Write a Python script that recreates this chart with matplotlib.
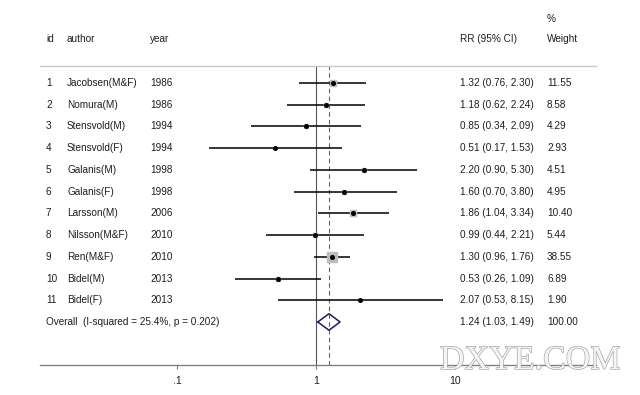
import numpy as np
import matplotlib
matplotlib.use('Agg')
import matplotlib.pyplot as plt
import matplotlib.patheffects as pe
from matplotlib.transforms import blended_transform_factory

# 研究数据
ids = ['1', '2', '3', '4', '5', '6', '7', '8', '9', '10', '11']
authors = ['Jacobsen(M&F)', 'Nomura(M)', 'Stensvold(M)', 'Stensvold(F)', 'Galanis(M)',
           'Galanis(F)', 'Larsson(M)', 'Nilsson(M&F)', 'Ren(M&F)', 'Bidel(M)', 'Bidel(F)']
years = ['1986', '1986', '1994', '1994', '1998', '1998', '2006', '2010', '2010', '2013', '2013']
rr = [1.32, 1.18, 0.85, 0.51, 2.20, 1.60, 1.86, 0.99, 1.30, 0.53, 2.07]
lo = [0.76, 0.62, 0.34, 0.17, 0.90, 0.70, 1.04, 0.44, 0.96, 0.26, 0.53]
hi = [2.30, 2.24, 2.09, 1.53, 5.30, 3.80, 3.34, 2.21, 1.76, 1.09, 8.15]
weight = [11.55, 8.58, 4.29, 2.93, 4.51, 4.95, 10.40, 5.44, 38.55, 6.89, 1.90]

overall_label = 'Overall  (I-squared = 25.4%, p = 0.202)'
overall_rr, overall_lo, overall_hi, overall_w = 1.24, 1.03, 1.49, 100.00

tick_vals = [0.1, 1, 10]
tick_labels = ['.1', '1', '10']

plt.rcParams['font.family'] = ['Liberation Sans', 'DejaVu Sans']
fs = 7.2
tc = '#1e1e1e'

W, H = 640, 395
fig = plt.figure(figsize=(W / 100, H / 100), dpi=100)
# 绘图区: 横向 40-596 px, 纵向 66-365 px
ax = fig.add_axes([40 / W, (H - 365) / H, 556 / W, 299 / H])
ax.set_xscale('log')
ax.set_xlim(10 ** (-276 / 139), 10 ** (280 / 139))
ax.set_ylim(13.98, 0.218)

n = len(rr)
rows = np.arange(1, n + 1)

# 参考线
ax.axvline(1, color='#555555', lw=0.8, zorder=1)
ax.axvline(overall_rr, color='#a04848', lw=0.8, ls=(0, (4, 3)), zorder=1)

# 置信区间和权重方块
for i in range(n):
    y = rows[i]
    ax.plot([lo[i], hi[i]], [y, y], color='black', lw=1.1, zorder=2, solid_capstyle='butt')
    ax.plot(rr[i], y, marker='s', ms=7.2 * np.sqrt(weight[i] / 38.55), color='#bdbdbd',
            mec='#bdbdbd', zorder=3, ls='none')
    ax.plot(rr[i], y, marker='o', ms=2.6, color='black', zorder=4, ls='none')

# 合并效应菱形
yo = n + 1
dx = [overall_lo, overall_rr, overall_hi, overall_rr, overall_lo]
dy = [yo, yo - 0.38, yo, yo + 0.38, yo]
ax.plot(dx, dy, color='#1c1c6a', lw=1.1, zorder=4)

# 坐标轴样式
for s in ['left', 'right']:
    ax.spines[s].set_visible(False)
ax.spines['top'].set_color('#c8c8c8')
ax.spines['top'].set_linewidth(1.0)
ax.spines['bottom'].set_color('#808080')
ax.spines['bottom'].set_linewidth(1.0)
ax.set_yticks([])
ax.set_xticks(tick_vals)
ax.set_xticklabels(tick_labels, fontsize=7.6, color=tc)
ax.xaxis.set_minor_locator(matplotlib.ticker.NullLocator())
ax.tick_params(axis='x', direction='out', length=3, width=0.8, color='#808080', pad=5)

# 文字列
tr = blended_transform_factory(fig.transFigure, ax.transData)
col_id, col_author, col_year, col_rr, col_w = 46 / W, 67 / W, 150 / W, 460 / W, 547 / W

ax.text(col_id, -1.02, 'id', transform=tr, fontsize=fs, color=tc, va='center', clip_on=False)
ax.text(col_author, -1.02, 'author', transform=tr, fontsize=fs, color=tc, va='center', clip_on=False)
ax.text(col_year, -1.02, 'year', transform=tr, fontsize=fs, color=tc, va='center', clip_on=False)
ax.text(col_rr, -1.02, 'RR (95% CI)', transform=tr, fontsize=fs, color=tc, va='center', clip_on=False)
ax.text(col_w, -1.95, '%', transform=tr, fontsize=fs, color=tc, va='center', clip_on=False)
ax.text(col_w, -1.02, 'Weight', transform=tr, fontsize=fs, color=tc, va='center', clip_on=False)

for i in range(n):
    y = rows[i]
    ax.text(col_id, y, ids[i], transform=tr, fontsize=fs, color=tc, va='center')
    ax.text(col_author, y, authors[i], transform=tr, fontsize=fs, color=tc, va='center')
    ax.text(col_year, y, years[i], transform=tr, fontsize=fs, color=tc, va='center')
    ax.text(col_rr, y, f'{rr[i]:.2f} ({lo[i]:.2f}, {hi[i]:.2f})', transform=tr,
            fontsize=fs, color=tc, va='center')
    ax.text(col_w, y, f'{weight[i]:.2f}', transform=tr, fontsize=fs, color=tc, va='center')

ax.text(col_id, yo, overall_label, transform=tr, fontsize=fs, color=tc, va='center')
ax.text(col_rr, yo, f'{overall_rr:.2f} ({overall_lo:.2f}, {overall_hi:.2f})', transform=tr,
        fontsize=fs, color=tc, va='center')
ax.text(col_w, yo, f'{overall_w:.2f}', transform=tr, fontsize=fs, color=tc, va='center')

# 水印
fig.text(440 / W, (H - 369) / H, 'DXYE.COM', fontsize=24.5, family=['Liberation Serif', 'DejaVu Serif'],
         color='#f4f4f4', va='baseline', ha='left',
         path_effects=[pe.withStroke(linewidth=0.9, foreground='#a0a0a0')])

fig.savefig('out.png', dpi=100)
